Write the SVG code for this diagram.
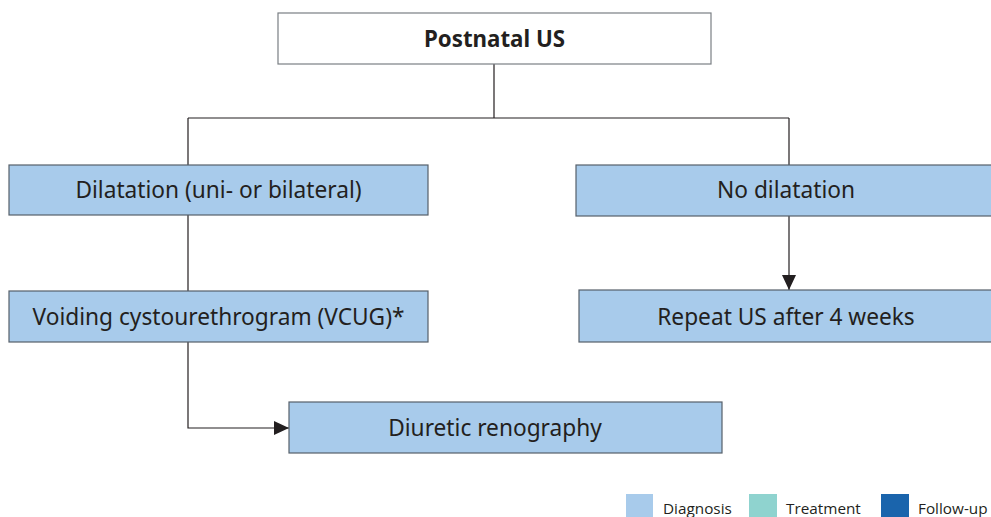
<svg xmlns="http://www.w3.org/2000/svg" width="991" height="517" viewBox="0 0 991 517">
<style>
.box{fill:#a8cbeb;stroke:#56606a;stroke-width:1.2}
.top{fill:#ffffff;stroke:#7a7f84;stroke-width:1.2}
.t{font-family:"Noto Sans","Liberation Sans",sans-serif;font-size:22.7px;fill:#231f20;text-anchor:middle}
.b{font-weight:bold;font-size:22.3px}
.line{fill:none;stroke:#231f20;stroke-width:1.2}
.lg{font-family:"Open Sans","Liberation Sans",sans-serif;font-size:15.3px;fill:#231f20}
</style>
<defs>
<marker id="arr" markerWidth="15" markerHeight="14" refX="15" refY="7" orient="auto" markerUnits="userSpaceOnUse">
<path d="M0,0 L15,7 L0,14 Z" fill="#231f20"/>
</marker>
</defs>
<g id="connectors">
<path class="line" d="M494,64 V118 M188,118 H789 M188,118 V165 M789,118 V165 M188,215 V291"/>
<path class="line" d="M789,216 V290" marker-end="url(#arr)"/>
<path class="line" d="M188,342 V428 H289" marker-end="url(#arr)"/>
</g>
<g id="postnatal"><rect class="top" x="278" y="13" width="433" height="51"/><text class="t b" x="494.5" y="47">Postnatal US</text></g>
<g id="dilatation"><rect class="box" x="9" y="165" width="419" height="50"/><text class="t" x="218.5" y="198">Dilatation (uni- or bilateral)</text></g>
<g id="nodilatation"><rect class="box" x="576" y="165" width="420" height="51"/><text class="t" x="786" y="198">No dilatation</text></g>
<g id="vcug"><rect class="box" x="9" y="291" width="419" height="51"/><text class="t" x="218.5" y="325">Voiding cystourethrogram (VCUG)*</text></g>
<g id="repeat"><rect class="box" x="579" y="290" width="417" height="52"/><text class="t" x="786" y="325">Repeat US after 4 weeks</text></g>
<g id="diuretic"><rect class="box" x="289" y="402" width="433" height="51"/><text class="t" x="495" y="436">Diuretic renography</text></g>
<g id="legend">
<rect x="626" y="494" width="27" height="25" fill="#a8cbeb"/><text class="lg" x="663" y="514">Diagnosis</text>
<rect x="749" y="494" width="28" height="25" fill="#8fd3cf"/><text class="lg" x="786" y="514">Treatment</text>
<rect x="881" y="494" width="28" height="25" fill="#1a64ac"/><text class="lg" x="918" y="514">Follow-up</text>
</g>
</svg>
